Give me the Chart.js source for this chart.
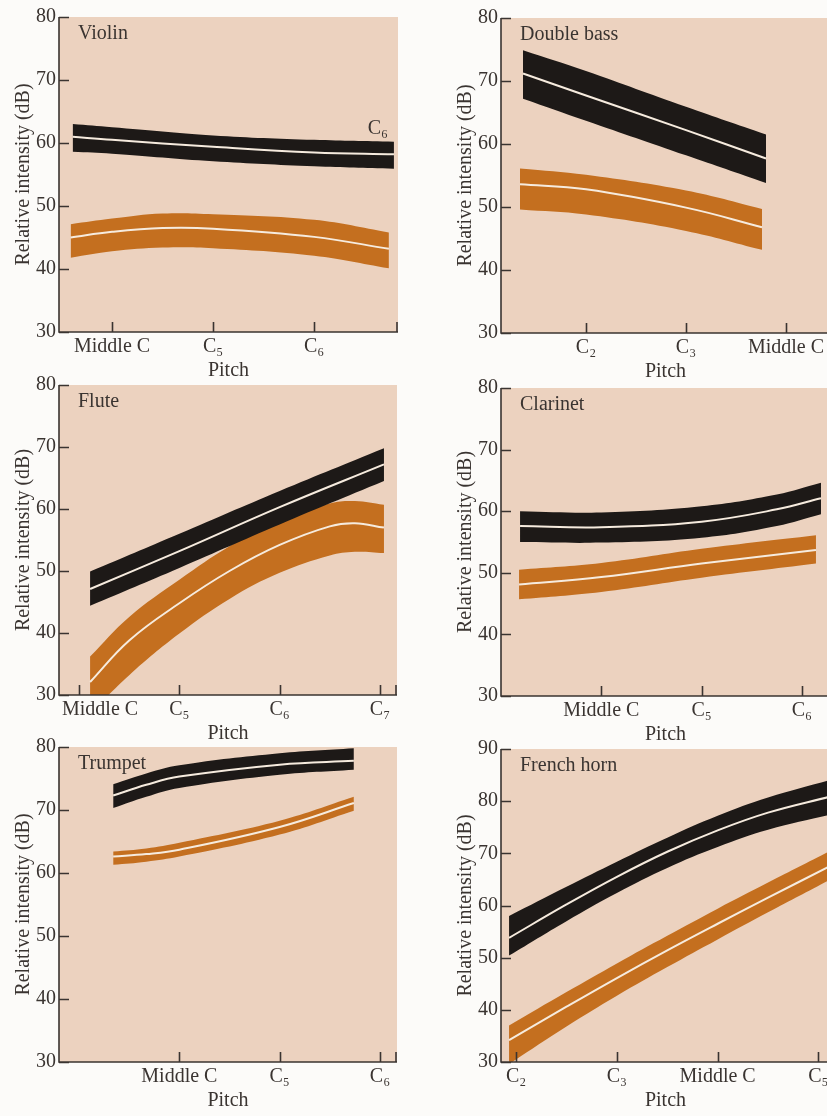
<!DOCTYPE html>
<html>
<head>
<meta charset="utf-8">
<script src="https://cdn.jsdelivr.net/npm/chart.js@4.4.1/dist/chart.umd.min.js"></script>
<style>
  html, body { margin: 0; padding: 0; width: 827px; height: 1116px; overflow: hidden; background: #fcfbf9; }
  canvas { position: absolute; }
</style>
</head>
<body>
<canvas id="violin" width="398" height="385" style="left:0px;top:2px"></canvas>
<canvas id="bass" width="438" height="385" style="left:442px;top:3px"></canvas>
<canvas id="flute" width="397" height="380" style="left:0px;top:370px"></canvas>
<canvas id="clarinet" width="438" height="378" style="left:442px;top:373px"></canvas>
<canvas id="trumpet" width="397" height="385" style="left:0px;top:732px"></canvas>
<canvas id="horn" width="438" height="383" style="left:442px;top:734px"></canvas>
<script>
// pitch axis in octave numbers (Middle C = 4), intensity in dB
// Violin
const violinTicks = [4, 5, 6];
const violinTickLabels = ['Middle C', 'C₅', 'C₆'];
const violinBlackX = [3.61, 4.0, 5.0, 6.0, 6.79];
const violinBlackHi = [63.0, 62.5, 61.2, 60.5, 60.2];
const violinBlackMid = [61.0, 60.5, 59.4, 58.5, 58.2];
const violinBlackLo = [58.6, 58.3, 57.1, 56.3, 55.9];
const violinOrangeX = [3.59, 4.0, 4.5, 5.0, 6.0, 6.74];
const violinOrangeHi = [47.1, 48.0, 48.8, 48.7, 47.8, 45.8];
const violinOrangeMid = [45.0, 45.9, 46.5, 46.4, 45.1, 43.2];
const violinOrangeLo = [41.8, 42.8, 43.4, 43.3, 42.1, 40.1];

// Double bass
const bassTicks = [2, 3, 4];
const bassTickLabels = ['C₂', 'C₃', 'Middle C'];
const bassBlackX = [1.37, 2.0, 3.0, 3.80];
const bassBlackHi = [74.9, 71.6, 65.9, 61.5];
const bassBlackMid = [71.2, 67.7, 62.2, 57.7];
const bassBlackLo = [67.2, 63.7, 58.2, 53.8];
const bassOrangeX = [1.34, 2.0, 3.0, 3.76];
const bassOrangeHi = [56.1, 55.1, 52.6, 49.7];
const bassOrangeMid = [53.6, 52.8, 49.9, 46.8];
const bassOrangeLo = [49.6, 48.8, 46.2, 43.2];

// Flute
const fluteTicks = [4, 5, 6, 7];
const fluteTickLabels = ['Middle C', 'C₅', 'C₆', 'C₇'];
const fluteBlackX = [4.11, 5.0, 6.0, 7.04];
const fluteBlackHi = [49.9, 56.0, 62.9, 69.8];
const fluteBlackMid = [47.1, 53.2, 60.3, 67.2];
const fluteBlackLo = [44.4, 50.5, 57.5, 64.5];
const fluteOrangeX = [4.11, 4.5, 5.0, 5.5, 6.0, 6.5, 6.75, 7.04];
const fluteOrangeHi = [36.2, 42.6, 48.6, 54.0, 58.3, 60.9, 61.3, 60.7];
const fluteOrangeMid = [32.1, 38.8, 44.8, 50.0, 54.2, 57.2, 57.7, 57.0];
const fluteOrangeLo = [27.0, 33.2, 39.9, 45.5, 49.7, 52.5, 53.1, 52.9];

// Clarinet
const clarinetTicks = [4, 5, 6];
const clarinetTickLabels = ['Middle C', 'C₅', 'C₆'];
const clarinetBlackX = [3.19, 4.0, 5.0, 5.75, 6.19];
const clarinetBlackHi = [60.0, 59.8, 60.8, 62.7, 64.6];
const clarinetBlackMid = [57.6, 57.4, 58.3, 60.3, 62.1];
const clarinetBlackLo = [55.0, 54.9, 55.7, 57.6, 59.5];
const clarinetOrangeX = [3.18, 4.0, 5.0, 6.14];
const clarinetOrangeHi = [50.5, 51.6, 53.9, 56.1];
const clarinetOrangeMid = [48.1, 49.3, 51.5, 53.7];
const clarinetOrangeLo = [45.7, 46.9, 49.2, 51.5];

// Trumpet
const trumpetTicks = [4, 5, 6];
const trumpetTickLabels = ['Middle C', 'C₅', 'C₆'];
const trumpetX = [3.34, 3.67, 4.0, 5.0, 5.74];
const trumpetBlackHi = [74.1, 75.8, 77.1, 79.0, 79.8];
const trumpetBlackMid = [72.3, 74.0, 75.3, 77.2, 77.8];
const trumpetBlackLo = [70.3, 72.1, 73.5, 75.6, 76.4];
const trumpetOrangeHi = [63.4, 63.9, 64.8, 68.3, 72.1];
const trumpetOrangeMid = [62.6, 63.0, 63.7, 67.3, 71.1];
const trumpetOrangeLo = [61.3, 61.8, 62.6, 66.1, 69.9];

// French horn
const hornTicks = [2, 3, 4, 5];
const hornTickLabels = ['C₂', 'C₃', 'Middle C', 'C₅'];
const hornX = [1.93, 2.5, 3.0, 3.5, 4.0, 4.5, 5.12];
const hornBlackHi = [58.0, 63.6, 68.4, 73.0, 77.2, 80.7, 84.1];
const hornBlackMid = [53.8, 60.2, 65.5, 70.3, 74.4, 77.8, 80.9];
const hornBlackLo = [50.4, 57.0, 62.4, 67.2, 71.2, 74.5, 77.4];
const hornOrangeHi = [37.0, 43.4, 48.9, 54.2, 59.4, 64.4, 70.5];
const hornOrangeMid = [34.2, 40.6, 46.1, 51.4, 56.5, 61.5, 67.6];
const hornOrangeLo = [29.6, 36.8, 42.7, 48.2, 53.5, 58.7, 65.0];

// --- styling ---
const PEACH = '#ecd2bf';
const BLACK = '#1d1917';
const ORANGE = '#c46f1f';
const CREAM = '#f6ebde';
const INK = '#3a3431';
const FONT = '20px "Liberation Serif", "DejaVu Serif", serif';
const TICK = 10;

Chart.defaults.font.family = '"Liberation Serif", "DejaVu Serif", serif';
Chart.defaults.font.size = 20;
Chart.defaults.color = INK;

const pts = (xs, ys) => xs.map((x, i) => ({ x: x, y: ys[i] }));

// one band = white centre line + filled area between upper and lower edge
function band(xs, hi, mid, lo, color, base) {
    const common = { pointRadius: 0, tension: 0.4, borderWidth: 0, borderColor: 'rgba(0,0,0,0)' };
    return [
        { ...common, data: pts(xs, mid), borderColor: CREAM, borderWidth: 2, fill: false },
        { ...common, data: pts(xs, hi), backgroundColor: color, fill: base + 2 },
        { ...common, data: pts(xs, lo), fill: false }
    ];
}

function decor(p) {
    return {
        id: 'decor',
        beforeDraw(chart) {
            const { ctx, chartArea: a } = chart;
            ctx.save();
            ctx.fillStyle = PEACH;
            ctx.fillRect(a.left, a.top, a.right - a.left, a.bottom - a.top);
            ctx.restore();
        },
        afterDraw(chart) {
            const { ctx, chartArea: a, scales: { x, y } } = chart;
            ctx.save();
            // axes + inward ticks
            ctx.strokeStyle = INK;
            ctx.lineWidth = 1.6;
            ctx.beginPath();
            ctx.moveTo(a.left, a.top);
            ctx.lineTo(a.left, a.bottom);
            ctx.lineTo(a.right, a.bottom);
            y.ticks.forEach(t => {
                const py = Math.round(y.getPixelForValue(t.value)) + 0.5;
                ctx.moveTo(a.left, py);
                ctx.lineTo(a.left + TICK, py);
            });
            p.ticks.forEach(v => {
                const px = Math.round(x.getPixelForValue(v)) + 0.5;
                ctx.moveTo(px, a.bottom);
                ctx.lineTo(px, a.bottom - TICK);
            });
            if (p.endTick) {
                ctx.moveTo(a.right - 1, a.bottom);
                ctx.lineTo(a.right - 1, a.bottom - TICK);
            }
            ctx.stroke();

            // pitch labels
            ctx.fillStyle = INK;
            ctx.font = FONT;
            ctx.textBaseline = 'middle';
            p.ticks.forEach((v, i) => {
                const px = x.getPixelForValue(v);
                const w = ctx.measureText(p.labels[i]).width;
                if (px - w / 2 < a.left + 2) {
                    ctx.textAlign = 'left';
                    ctx.fillText(p.labels[i], a.left + 3, a.bottom + 15);
                } else {
                    ctx.textAlign = 'center';
                    ctx.fillText(p.labels[i], px, a.bottom + 15);
                }
            });
            ctx.textAlign = 'center';
            ctx.fillText('Pitch', (a.left + a.right) / 2, a.bottom + 39);

            // instrument name
            ctx.textAlign = 'left';
            ctx.fillText(p.title, a.left + 19, a.top + 17);

            (p.notes || []).forEach(n => {
                ctx.textAlign = 'center';
                ctx.fillText(n.text, x.getPixelForValue(n.x), y.getPixelForValue(n.y));
            });
            ctx.restore();
        }
    };
}

function panel(p) {
    const datasets = [
        ...band(p.black[0], p.black[1], p.black[2], p.black[3], BLACK, 0),
        ...band(p.orange[0], p.orange[1], p.orange[2], p.orange[3], ORANGE, 3)
    ];
    new Chart(document.getElementById(p.id), {
        type: 'line',
        data: { datasets: datasets },
        options: {
            responsive: false,
            animation: false,
            events: [],
            layout: { padding: { top: 12, right: p.padRight, bottom: 0, left: 0 } },
            plugins: { legend: { display: false }, tooltip: { enabled: false } },
            scales: {
                x: {
                    type: 'linear', min: p.xMin, max: p.xMax,
                    grid: { display: false, drawTicks: false }, border: { display: false },
                    ticks: { display: false },
                    afterFit: s => { s.height = 55; }
                },
                y: {
                    type: 'linear', min: p.yMin, max: p.yMax,
                    grid: { display: false, drawTicks: false }, border: { display: false },
                    ticks: { stepSize: 10, padding: 3, color: INK, font: { size: 20 } },
                    title: { display: true, text: 'Relative intensity (dB)', color: INK, font: { size: 20 }, padding: { top: 12, bottom: 0 } },
                    afterFit: s => { s.width = 59; }
                }
            }
        },
        plugins: [decor(p)]
    });
}

panel({ id: 'violin', title: 'Violin', padRight: 0, xMin: 3.475, xMax: 6.83, yMin: 30, yMax: 80,
    ticks: violinTicks, labels: violinTickLabels, endTick: true,
    notes: [{ text: 'C₆', x: 6.63, y: 62.3 }],
    black: [violinBlackX, violinBlackHi, violinBlackMid, violinBlackLo],
    orange: [violinOrangeX, violinOrangeHi, violinOrangeMid, violinOrangeLo] });

panel({ id: 'bass', title: 'Double bass', padRight: 50, xMin: 1.15, xMax: 4.44, yMin: 30, yMax: 80,
    ticks: bassTicks, labels: bassTickLabels, endTick: false,
    black: [bassBlackX, bassBlackHi, bassBlackMid, bassBlackLo],
    orange: [bassOrangeX, bassOrangeHi, bassOrangeMid, bassOrangeLo] });

panel({ id: 'flute', title: 'Flute', padRight: 0, xMin: 3.80, xMax: 7.17, yMin: 30, yMax: 80,
    ticks: fluteTicks, labels: fluteTickLabels, endTick: true,
    black: [fluteBlackX, fluteBlackHi, fluteBlackMid, fluteBlackLo],
    orange: [fluteOrangeX, fluteOrangeHi, fluteOrangeMid, fluteOrangeLo] });

panel({ id: 'clarinet', title: 'Clarinet', padRight: 50, xMin: 3.0, xMax: 6.28, yMin: 30, yMax: 80,
    ticks: clarinetTicks, labels: clarinetTickLabels, endTick: false,
    black: [clarinetBlackX, clarinetBlackHi, clarinetBlackMid, clarinetBlackLo],
    orange: [clarinetOrangeX, clarinetOrangeHi, clarinetOrangeMid, clarinetOrangeLo] });

panel({ id: 'trumpet', title: 'Trumpet', padRight: 0, xMin: 2.80, xMax: 6.17, yMin: 30, yMax: 80,
    ticks: trumpetTicks, labels: trumpetTickLabels, endTick: true,
    black: [trumpetX, trumpetBlackHi, trumpetBlackMid, trumpetBlackLo],
    orange: [trumpetX, trumpetOrangeHi, trumpetOrangeMid, trumpetOrangeLo] });

panel({ id: 'horn', title: 'French horn', padRight: 50, xMin: 1.85, xMax: 5.115, yMin: 30, yMax: 90,
    ticks: hornTicks, labels: hornTickLabels, endTick: false,
    black: [hornX, hornBlackHi, hornBlackMid, hornBlackLo],
    orange: [hornX, hornOrangeHi, hornOrangeMid, hornOrangeLo] });
</script>
</body>
</html>
